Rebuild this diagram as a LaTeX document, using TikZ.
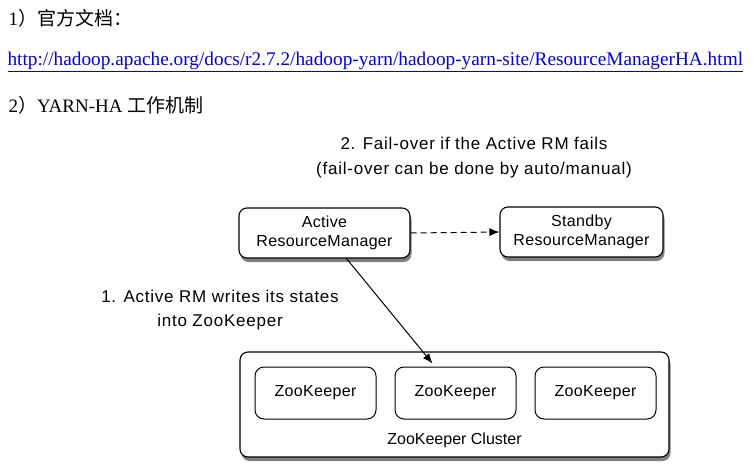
\documentclass[tikz,border=0pt]{standalone}
\usepackage{fontspec}
\setmainfont{Liberation Serif}
\setsansfont{Liberation Sans}
\newfontfamily\cjk{Noto Sans CJK SC}
\newfontfamily\boxfont[LetterSpace=2]{Liberation Sans}
\newfontfamily\notefont[LetterSpace=4.5]{Liberation Sans}
\usepackage{xcolor}
\usepackage{tikz}
\usetikzlibrary{positioning, calc, arrows.meta}

\begin{document}
\begin{tikzpicture}[x=1pt, y=-1pt,
        rmbox/.style={draw=black, line width=1.1pt, rounded corners=8pt, fill=white,
            align=center, font=\boxfont\fontsize{16}{19}\selectfont,
            preaction={fill=black!50, transform canvas={xshift=1.5pt, yshift=-4pt}}},
        zkbox/.style={draw=black, line width=1pt, rounded corners=9pt, fill=white,
            minimum width=121pt, minimum height=52pt, font=\boxfont\fontsize{16}{19}\selectfont}]
        % Màu sắc
        \definecolor{linkblue}{RGB}{0, 0, 238}

        \useasboundingbox (0,0) rectangle (755,466);

        % 1. Phần tiêu đề phía trên
        \node[anchor=west, font=\fontsize{19}{22}\selectfont] (hdr_doc) at (5, 18) {1\cjk）官方文档：};
        \node[anchor=west, text=linkblue, font=\fontsize{19.3}{22}\selectfont] (hdr_link) at (4, 62)
            {\underline{http://hadoop.apache.org/docs/r2.7.2/hadoop-yarn/hadoop-yarn-site/ResourceManagerHA.html}};
        \node[anchor=west, font=\fontsize{19}{22}\selectfont] (hdr_ha) at (5, 105) {2{\cjk）}YARN-HA {\cjk 工作机制}};

        % 2. Hai ResourceManager
        \node[rmbox, minimum width=171pt, minimum height=50pt] (rm_active) at (324.5, 233) {Active\\ResourceManager};
        \node[rmbox, minimum width=163pt, minimum height=50pt] (rm_standby) at (581.5, 232) {Standby\\ResourceManager};

        % 3. Cụm ZooKeeper
        \node[rmbox, minimum width=429pt, minimum height=105pt] (zk_cluster) at (454.5, 404.5) {};
        \node[font=\sffamily\fontsize{16}{19}\selectfont] (lbl_cluster) at (454.5, 440) {ZooKeeper Cluster};
        \foreach \px [count=\i] in {315.5, 455.5, 595.5} {
            \node[zkbox] (zk\i) at (\px, 393) {ZooKeeper};
        }

        % 4. Các mũi tên và nhãn
        \node[align=center, font=\notefont\fontsize{17}{25}\selectfont] (lbl_failover) at (474, 158)
            {2. Fail-over if the Active RM fails\\(fail-over can be done by auto/manual)};
        \node[align=center, font=\notefont\fontsize{17}{24}\selectfont] (lbl_write) at (220, 310)
            {1. Active RM writes its states\\into ZooKeeper};

        \draw[-{Latex[length=10pt, width=8pt]}, line width=1pt, dash pattern=on 6pt off 4pt] (rm_active.east) -- (rm_standby.west);
        \draw[-{Latex[length=10pt, width=8pt]}, line width=1pt] ($(rm_active.south)+(22,0)$) -- ($(zk2.north)+(-23,-3)$);

    \end{tikzpicture}
\end{document}
